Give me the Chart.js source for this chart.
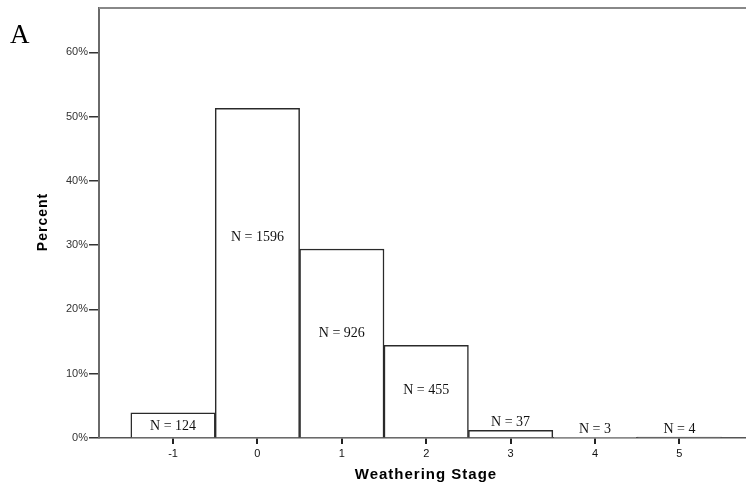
<!DOCTYPE html>
<html>
<head>
<meta charset="utf-8">
<script src="https://cdn.jsdelivr.net/npm/chart.js@4"></script>
<style>
  html, body { margin: 0; padding: 0; background: #fff; }
  #wrap { width: 746px; height: 486px; }
</style>
</head>
<body>
<div id="wrap"><canvas id="chart" width="746" height="486"></canvas></div>
<script>
// weathering stages and share of specimens
const stages = [-1, 0, 1, 2, 3, 4, 5];
const percents = [3.9, 51.3, 29.4, 14.4, 1.2, 0.1, 0.13];
const counts = [124, 1596, 926, 455, 37, 3, 4];
const yTicks = [0, 10, 20, 30, 40, 50, 60];

const textPlugin = {
  id: 'textPlugin',
  afterDatasetsDraw(chart) {
    const { ctx, chartArea, scales } = chart;
    const meta = chart.getDatasetMeta(0);
    ctx.save();
    // N = labels inside / above the bars
    ctx.fillStyle = '#111';
    ctx.font = '14px "Liberation Serif", "Times New Roman", serif';
    ctx.textAlign = 'center';
    ctx.textBaseline = 'middle';
    meta.data.forEach((bar, i) => {
      const v = percents[i];
      const h = scales.y.getPixelForValue(0) - bar.y;
      let y;
      if (h < 16) y = bar.y - 8;
      else y = scales.y.getPixelForValue(0.00236 * v * v + 0.49 * v - 0.14);
      ctx.fillText('N = ' + counts[i], bar.x, y);
    });

    // top frame line
    ctx.strokeStyle = '#888';
    ctx.lineWidth = 2;
    ctx.beginPath();
    ctx.moveTo(chartArea.left, chartArea.top);
    ctx.lineTo(chartArea.right, chartArea.top);
    ctx.stroke();

    // panel letter
    ctx.fillStyle = '#000';
    ctx.font = '27px "Liberation Serif", "Times New Roman", serif';
    ctx.textAlign = 'left';
    ctx.textBaseline = 'alphabetic';
    ctx.fillText('A', 10, 43);

    // axis titles
    ctx.font = 'bold 15px "Liberation Sans", Arial, sans-serif';
    ctx.textAlign = 'center';
    ctx.textBaseline = 'middle';
    ctx.letterSpacing = '1px';
    ctx.fillText('Weathering Stage', 426, 475);
    ctx.translate(43, 222);
    ctx.rotate(-Math.PI / 2);
    ctx.font = 'bold 14px "Liberation Sans", Arial, sans-serif';
    ctx.fillText('Percent', 0, 0);
    ctx.restore();
  }
};

new Chart(document.getElementById('chart'), {
  type: 'bar',
  data: {
    datasets: [{
      data: stages.map((s, i) => ({ x: s, y: percents[i] })),
      backgroundColor: '#fff',
      borderColor: '#2a2a2a',
      borderWidth: 1.5,
      barPercentage: 1,
      categoryPercentage: 1
    }]
  },
  options: {
    responsive: false,
    animation: false,
    layout: { padding: { top: 8, left: 0, right: 0, bottom: 0 } },
    plugins: { legend: { display: false }, tooltip: { enabled: false } },
    scales: {
      x: {
        type: 'linear',
        min: -1.877,
        max: 5.789,
        offset: false,
        afterFit(scale) { scale.height = 48; },
        grid: { offset: false, drawOnChartArea: false, drawTicks: true, tickLength: 6, color: '#222', lineWidth: 2 },
        border: { display: true, color: '#555', width: 1.5 },
        ticks: {
          stepSize: 1,
          includeBounds: false,
          autoSkip: false,
          maxRotation: 0,
          padding: 3,
          color: '#111',
          font: { family: '"Liberation Sans", Arial, sans-serif', size: 11 }
        }
      },
      y: {
        min: 0,
        max: 66.9,
        afterFit(scale) { scale.width = 99; },
        afterBuildTicks(scale) { scale.ticks = yTicks.map(v => ({ value: v })); },
        grid: { drawOnChartArea: false, drawTicks: true, tickLength: 10, color: '#333', lineWidth: 1.5 },
        border: { display: true, color: '#6a6a6a', width: 2 },
        ticks: {
          padding: 1,
          color: '#333',
          font: { family: '"Liberation Sans", Arial, sans-serif', size: 11 },
          callback: v => v + '%'
        }
      }
    }
  },
  plugins: [textPlugin]
});
</script>
</body>
</html>
